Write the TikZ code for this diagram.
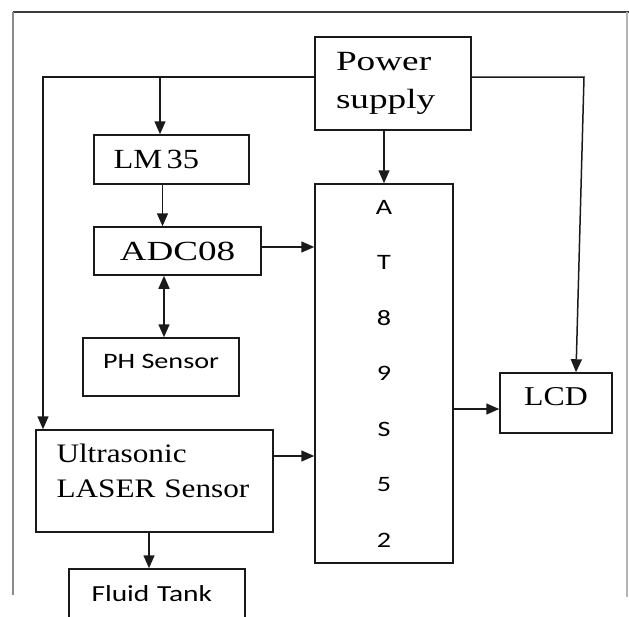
\documentclass[tikz,border=0pt]{standalone}
\usepackage{fontspec}
\setmainfont{Liberation Serif}
\newfontfamily\rmwide[FakeStretch=1.34]{Liberation Serif}
\newfontfamily\rmtext[FakeStretch=1.17]{Liberation Serif}
\newfontfamily\sftext[FakeStretch=1.28]{Carlito}
\usetikzlibrary{arrows.meta,positioning}
\definecolor{boxline}{HTML}{1A1A1A}
\definecolor{framedark}{HTML}{3C3C3C}
\definecolor{framegray}{HTML}{8A8A8A}
\definecolor{framelight}{HTML}{B4B4B4}

\begin{document}
\begin{tikzpicture}[x=1pt, y=-1pt,
    >={Triangle[length=13pt,width=11pt]},
    block/.style={draw=boxline, line width=1.5pt, inner sep=0pt},
    link/.style={boxline, line width=1.5pt, ->}]
  \useasboundingbox (0,0) rectangle (629,616);
  \clip (0,0) rectangle (629,616);

  %% Outer frame (open at the bottom)
  \draw[framedark, line width=1.8pt] (13,12) -- (629,12);
  \draw[framegray, line width=1.8pt] (13,12) -- (13,595);
  \draw[framelight, line width=1.6pt] (627,12) -- (627,597);

  %% Blocks
  \node[block, align=left, text width=114pt, inner xsep=21pt, minimum height=93pt,
        font=\rmwide\fontsize{27.8pt}{38pt}\selectfont] (ps) at (393,83.5) {Power\\supply};
  \node[block, align=left, text width=116pt, inner xsep=19.5pt, minimum height=49pt,
        font=\rmtext\fontsize{27.7pt}{33pt}\selectfont] (lm) at (171.5,159.5) {LM\,35};
  \node[block, minimum width=167pt, minimum height=48pt,
        font=\rmwide\fontsize{27.7pt}{33pt}\selectfont] (adc) at (177.5,251) {ADC08};
  \node[block, minimum width=156pt, minimum height=58pt, text depth=12pt,
        font=\sftext\fontsize{22pt}{26pt}\selectfont] (ph) at (161,367) {PH Sensor};
  \node[block, align=left, text width=196pt, inner xsep=20.5pt, minimum height=102pt,
        text depth=56pt, font=\rmtext\fontsize{26.7pt}{35pt}\selectfont]
        (us) at (154.5,481) {Ultrasonic\\LASER Sensor};
  \node[block, align=left, text width=131pt, inner xsep=22.5pt, minimum height=50pt,
        font=\sftext\fontsize{23pt}{27pt}\selectfont] (ft) at (157,594) {Fluid Tank};
  \node[block, align=center, minimum width=138pt, minimum height=379pt,
        font=\sftext\fontsize{22pt}{55.5pt}\selectfont]
        (at) at (384,373.5) {A\\T\\8\\9\\S\\5\\2};
  \node[block, minimum width=112pt, minimum height=60pt, text depth=14pt,
        font=\rmtext\fontsize{27.2pt}{32pt}\selectfont] (lcd) at (556,403) {LCD};

  %% Supply rails
  \coordinate (busL) at (43,77);
  \coordinate (busR) at (584,77);
  \coordinate (tapLM) at (160,77);
  \draw[link] (ps.west |- busL) -- (busL) -- (busL |- us.north);
  \draw[link] (tapLM) -- (tapLM |- lm.north);
  \draw[link] (ps.east |- busR) -- (busR) -- ([xshift=20pt]lcd.north);
  \draw[link] (ps.south -| at.north) -- (at.north);

  %% Signal paths
  \draw[link] ([xshift=-9pt]lm.south) -- ([xshift=-9pt]lm.south |- adc.north);
  \draw[link] ([yshift=4pt]adc.east) -- ([yshift=4pt]adc.east -| at.west);
  \draw[link, <->] ([xshift=3pt]ph.north) -- ([xshift=3pt]ph.north |- adc.south);
  \draw[link] ([yshift=25pt]us.east) -- ([yshift=25pt]us.east -| at.west);
  \draw[link] ([xshift=-5.5pt]us.south) -- ([xshift=-5.5pt]us.south |- ft.north);
  \draw[link] ([yshift=-6pt]lcd.west -| at.east) -- ([yshift=-6pt]lcd.west);
\end{tikzpicture}
\end{document}
